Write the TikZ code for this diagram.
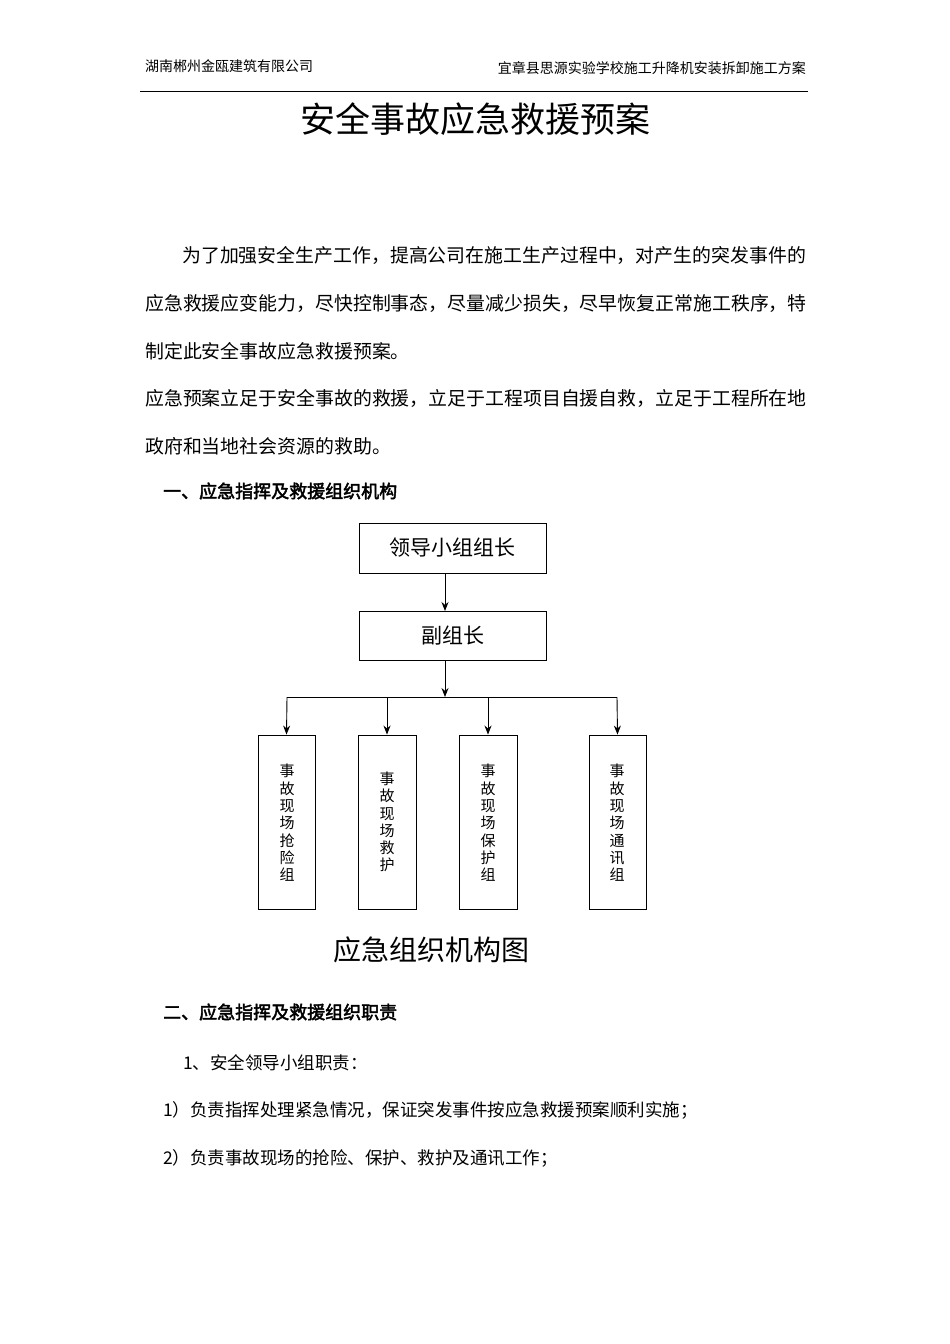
\documentclass[tikz,border=0pt]{standalone}
\usepackage{fontspec}
\setmainfont{Noto Sans CJK SC}
\newfontfamily\cjkb{Noto Sans CJK SC}[FakeBold=2.5]
\usetikzlibrary{arrows.meta}
\begin{document}
\begin{tikzpicture}[x=1pt,y=-1pt,
  t/.style={anchor=west,inner sep=0pt,font=\fontsize{18.9}{20}\selectfont},
  bx/.style={draw,line width=0.9pt,inner sep=0pt},
  arr/.style={-{Stealth[length=9pt,width=7pt]},line width=0.9pt},
  vt/.style={inner sep=0pt,align=center,font=\fontsize{15}{17.3}\selectfont}]
\useasboundingbox (0,0) rectangle (950,1344);
\node[anchor=west,inner sep=0pt,font=\fontsize{14}{15}\selectfont] (hl) at (145,66) {湖南郴州金瓯建筑有限公司};
\node[anchor=east,inner sep=0pt,font=\fontsize{14}{15}\selectfont] (hr) at (806,68) {宜章县思源实验学校施工升降机安装拆卸施工方案};
\draw[line width=0.8pt] (140,91) -- (808,91);
\node[inner sep=0pt,font=\fontsize{35}{38}\selectfont] (title) at (475,119) {安全事故应急救援预案};
\node[t] (p1) at (182,255) {为了加强安全生产工作，提高公司在施工生产过程中，对产生的突发事件的};
\node[t] (p2) at (145,303) {应急救援应变能力，尽快控制事态，尽量减少损失，尽早恢复正常施工秩序，特};
\node[t] (p3) at (145,351) {制定此安全事故应急救援预案。};
\node[t] (p4) at (145,398) {应急预案立足于安全事故的救援，立足于工程项目自援自救，立足于工程所在地};
\node[t] (p5) at (145,446) {政府和当地社会资源的救助。};
\node[anchor=west,inner sep=0pt,font=\cjkb\fontsize{18}{19}\selectfont] (h1) at (163,491) {一、应急指挥及救援组织机构};
\node[bx,minimum width=187,minimum height=50,font=\fontsize{21}{23}\selectfont] (b1) at (452.5,548) {领导小组组长};
\node[bx,minimum width=187,minimum height=49,font=\fontsize{21}{23}\selectfont] (b2) at (452.5,635.5) {副组长};
\draw[arr] (445,573) -- (445,611);
\coordinate (j) at (445,697);
\draw[arr] (445,660) -- (j);
\draw[line width=0.9pt] (287,697) -- (617,697);
\node[bx,minimum width=57,minimum height=174] (c1) at (286.5,822) {};
\node[bx,minimum width=58,minimum height=174] (c2) at (387,822) {};
\node[bx,minimum width=58,minimum height=174] (c3) at (488,822) {};
\node[bx,minimum width=57,minimum height=174] (c4) at (617.5,822) {};
\node[vt] at (287,823) {事\\故\\现\\场\\抢\\险\\组};
\node[vt] at (387,822) {事\\故\\现\\场\\救\\护};
\node[vt] at (488,823) {事\\故\\现\\场\\保\\护\\组};
\node[vt] at (617,823) {事\\故\\现\\场\\通\\讯\\组};
\draw[arr] (287,697) -- (c1.north);
\draw[arr] (387,697) -- (c2.north);
\draw[arr] (488,697) -- (c3.north);
\draw[arr] (617,697) -- (c4.north);
\node[inner sep=0pt,font=\fontsize{28}{30}\selectfont] (cap) at (431,950) {应急组织机构图};
\node[anchor=west,inner sep=0pt,font=\cjkb\fontsize{18}{19}\selectfont] (h2) at (163,1012) {二、应急指挥及救援组织职责};
\node[anchor=west,inner sep=0pt,font=\fontsize{17.5}{19}\selectfont] (q1) at (183,1063) {1、安全领导小组职责：};
\node[anchor=west,inner sep=0pt,font=\fontsize{17.5}{19}\selectfont] (q2) at (163,1110) {1）负责指挥处理紧急情况，保证突发事件按应急救援预案顺利实施；};
\node[anchor=west,inner sep=0pt,font=\fontsize{17.5}{19}\selectfont] (q3) at (163,1158) {2）负责事故现场的抢险、保护、救护及通讯工作；};
\end{tikzpicture}
\end{document}
